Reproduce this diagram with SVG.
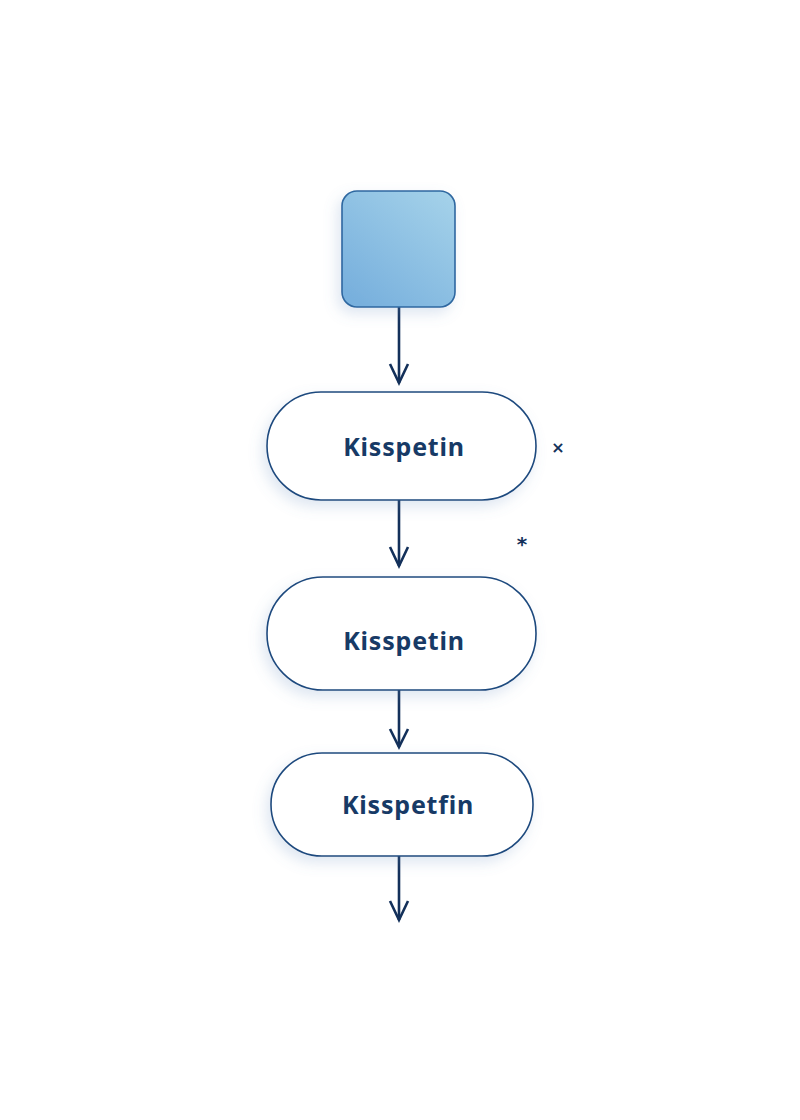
<svg xmlns="http://www.w3.org/2000/svg" width="800" height="1120" viewBox="0 0 800 1120">
<style>
.pill{fill:#ffffff;stroke:#1e4a7e;stroke-width:1.6}
.lbl{font-family:"Noto Sans","Open Sans","Liberation Sans",sans-serif;font-weight:bold;font-size:25px;letter-spacing:0.8px;fill:#173a66;text-anchor:middle}
.conn{stroke:#13305a;stroke-width:2.6;fill:none}
.head{stroke:#13305a;stroke-width:2.6;fill:none;stroke-linejoin:miter}
.mark{font-family:"DejaVu Sans","Liberation Sans",sans-serif;font-weight:bold;fill:#13305a;text-anchor:middle}
</style>
<defs>
<linearGradient id="sq" x1="1" y1="0" x2="0.2" y2="1">
<stop offset="0" stop-color="#a6d3ea"/>
<stop offset="1" stop-color="#78b0dd"/>
</linearGradient>
<filter id="sh" x="-30%" y="-30%" width="160%" height="170%">
<feGaussianBlur in="SourceAlpha" stdDeviation="7"/>
<feOffset dx="-4" dy="6" result="b"/>
<feFlood flood-color="#6a8fbf" flood-opacity="0.22"/>
<feComposite in2="b" operator="in"/>
<feMerge><feMergeNode/><feMergeNode in="SourceGraphic"/></feMerge>
</filter>
</defs>
<rect width="800" height="1120" fill="#ffffff"/>
<g id="connectors">
<line class="conn" x1="399" y1="307" x2="399" y2="383"/>
<polyline class="head" points="390,364 399,383 408,364"/>
<line class="conn" x1="399" y1="500" x2="399" y2="566"/>
<polyline class="head" points="390,547 399,566 408,547"/>
<line class="conn" x1="399" y1="690" x2="399" y2="747"/>
<polyline class="head" points="390,729 399,747 408,729"/>
<line class="conn" x1="399" y1="856" x2="399" y2="920"/>
<polyline class="head" points="390,901 399,920 408,901"/>
</g>
<g id="start">
<rect x="342" y="191" width="113" height="116" rx="15" fill="url(#sq)" stroke="#2e67a0" stroke-width="1.6" filter="url(#sh)"/>
</g>
<g id="node1">
<rect class="pill" x="267" y="392" width="269" height="108" rx="54" filter="url(#sh)"/>
<text class="lbl" x="404" y="456">Kisspetin</text>
</g>
<g id="node2">
<rect class="pill" x="267" y="577" width="269" height="113" rx="56" filter="url(#sh)"/>
<text class="lbl" x="404" y="650">Kisspetin</text>
</g>
<g id="node3">
<rect class="pill" x="271" y="753" width="262" height="103" rx="51" filter="url(#sh)"/>
<text class="lbl" x="408" y="814">Kisspetfin</text>
</g>
<g id="marks">
<text class="mark" x="558" y="453" font-size="16">×</text>
<text class="mark" x="522" y="551" font-size="20">*</text>
</g>
</svg>
